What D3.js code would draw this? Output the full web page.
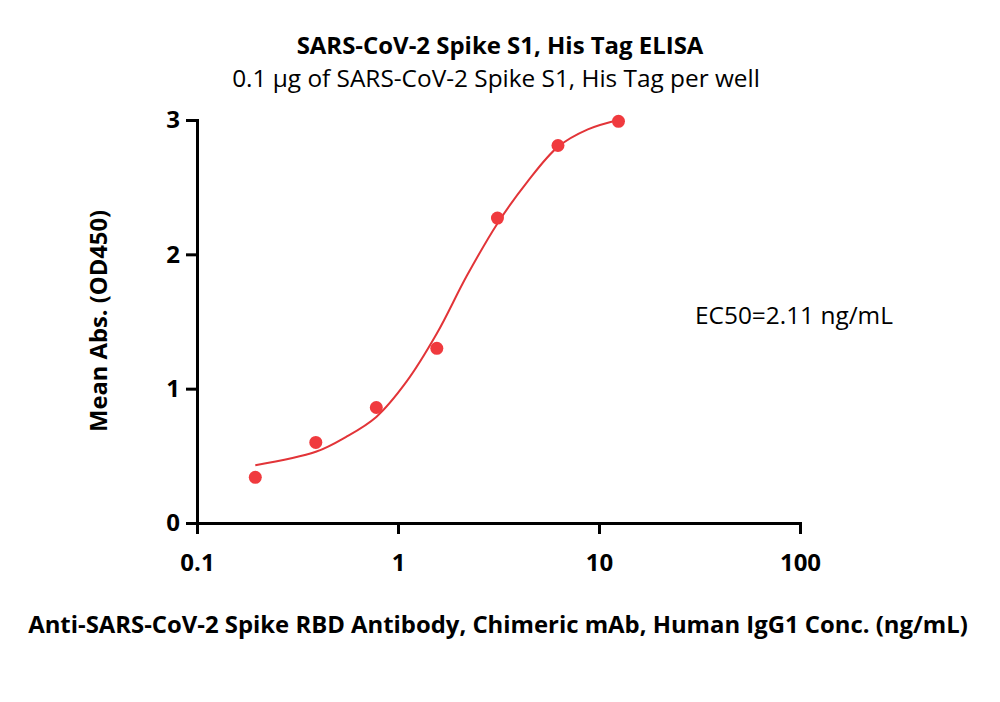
<!DOCTYPE html>
<html>
<head>
<meta charset="utf-8">
<script src="https://cdn.jsdelivr.net/npm/d3@7"></script>
<style>
  html, body { margin: 0; padding: 0; background: #fff; }
  svg { display: block; font-family: "Open Sans", sans-serif; }
</style>
</head>
<body>
<svg id="chart" width="1000" height="702"></svg>
<script>
// ---- data ----
const concentrations = [0.195, 0.39, 0.78, 1.56, 3.125, 6.25, 12.5];
const meanAbs = [0.34, 0.60, 0.86, 1.30, 2.27, 2.81, 2.99];
// fitted curve
const fitConc = [0.195, 0.39, 0.55, 0.78, 1.1, 1.56, 2.2, 3.125, 4.4, 6.25, 8.8, 12.5];
const fitAbs  = [0.43, 0.53, 0.64, 0.79, 1.05, 1.41, 1.84, 2.23, 2.54, 2.80, 2.93, 3.00];
const xTicks = [0.1, 1, 10, 100];
const xTickLabels = ["0.1", "1", "10", "100"];
const yTicks = [0, 1, 2, 3];
const yTickLabels = ["0", "1", "2", "3"];
const titleText = "SARS-CoV-2 Spike S1, His Tag ELISA";
const subtitleText = "0.1 µg of SARS-CoV-2 Spike S1, His Tag per well";
const xTitleText = "Anti-SARS-CoV-2 Spike RBD Antibody, Chimeric mAb, Human IgG1 Conc. (ng/mL)";
const yTitleText = "Mean Abs. (OD450)";
const ec50Text = "EC50=2.11 ng/mL";

// ---- drawing ----
const svg = d3.select("#chart");
const x = d3.scaleLog().domain([0.1, 100]).range([197, 800]);
const y = d3.scaleLinear().domain([0, 3]).range([523, 120]);

const dotColor = "rgb(240,58,62)";
const lineColor = "rgb(226,52,56)";

function fitWidth(sel, target) {
  const node = sel.node();
  const fs = parseFloat(sel.attr("font-size"));
  const w = node.getComputedTextLength();
  sel.attr("font-size", (fs * target / w).toFixed(2));
}

// x axis
const xAxis = svg.append("g")
  .attr("transform", `translate(0,${y(0)})`)
  .call(d3.axisBottom(x).tickValues(xTicks).tickFormat((d, i) => xTickLabels[i])
    .tickSize(11).tickSizeOuter(0).tickPadding(20));
// y axis
const yAxis = svg.append("g")
  .attr("transform", `translate(${x(0.1)},0)`)
  .call(d3.axisLeft(y).tickValues(yTicks).tickFormat((d, i) => yTickLabels[i])
    .tickSize(11).tickSizeOuter(0).tickPadding(6));

[xAxis, yAxis].forEach(g => {
  g.selectAll(".domain").attr("stroke", "#000").attr("stroke-width", 3).attr("stroke-linecap", "square");
  g.selectAll(".tick line").attr("stroke", "#000").attr("stroke-width", 3);
  g.selectAll(".tick text").attr("fill", "#000")
    .attr("font-family", "'Open Sans', sans-serif")
    .attr("font-size", 24).attr("font-weight", 700);
});

// fitted curve
const pts = fitConc.map((c, i) => [c, fitAbs[i]]);
svg.append("path")
  .datum(pts)
  .attr("fill", "none")
  .attr("stroke", lineColor)
  .attr("stroke-width", 2)
  .attr("d", d3.line().x(d => x(d[0])).y(d => y(d[1])).curve(d3.curveCatmullRom.alpha(0.5)));

// points
svg.append("g").selectAll("circle")
  .data(concentrations.map((c, i) => [c, meanAbs[i]]))
  .join("circle")
  .attr("cx", d => x(d[0]))
  .attr("cy", d => y(d[1]))
  .attr("r", 6.5)
  .attr("fill", dotColor);

// titles
const t1 = svg.append("text").attr("x", 500).attr("y", 54).attr("text-anchor", "middle")
  .attr("font-size", 24).attr("font-weight", 700).text(titleText);
fitWidth(t1, 407);
const t2 = svg.append("text").attr("x", 496).attr("y", 87).attr("text-anchor", "middle")
  .attr("font-size", 22).text(subtitleText);
fitWidth(t2, 528);
const xt = svg.append("text").attr("x", 498).attr("y", 633).attr("text-anchor", "middle")
  .attr("font-size", 24).attr("font-weight", 700).text(xTitleText);
fitWidth(xt, 940);
const yt = svg.append("text").attr("transform", "translate(107,321) rotate(-90)")
  .attr("text-anchor", "middle").attr("font-size", 24).attr("font-weight", 700).text(yTitleText);
fitWidth(yt, 222);
const ec = svg.append("text").attr("x", 695).attr("y", 324)
  .attr("font-size", 24).text(ec50Text);
fitWidth(ec, 198);
</script>
</body>
</html>
